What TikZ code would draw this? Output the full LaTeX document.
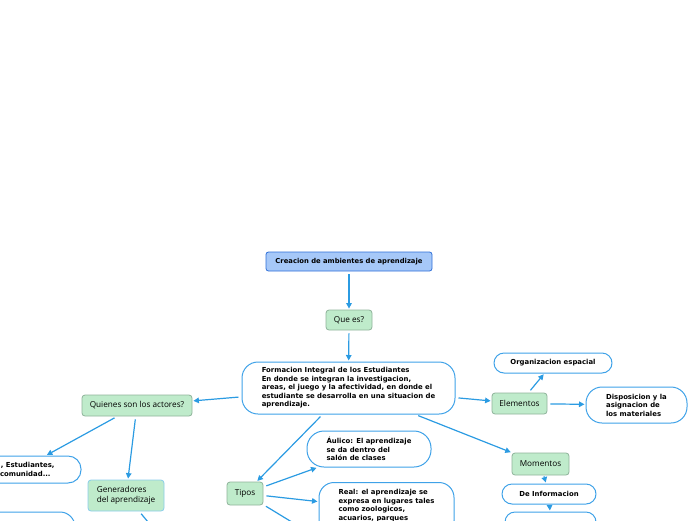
\documentclass[tikz,border=0pt]{standalone}
\usepackage{fontspec}
\setmainfont{DejaVu Sans}
\newfontfamily\topicfont{Open Sans}
\usetikzlibrary{arrows.meta}

\definecolor{linkblue}{HTML}{2B9BE2}
\definecolor{pillblue}{HTML}{3FA2E8}
\definecolor{greenfill}{HTML}{BFEBCB}
\definecolor{greenline}{HTML}{8FB39A}
\definecolor{genline}{HTML}{8ACDEA}
\definecolor{titlefill}{HTML}{A6C8F8}
\definecolor{titleline}{HTML}{2E6FD8}

\tikzset{
  idea/.style={draw=pillblue, fill=white, line width=1pt, rounded corners=15pt, align=left,
    inner sep=0pt, font=\bfseries\fontsize{6.9}{8.5}\selectfont},
  topic/.style={draw=greenline, fill=greenfill, line width=0.8pt, rounded corners=3pt,
    inner sep=0pt, font=\topicfont\fontsize{8.2}{10.5}\selectfont},
  link/.style={draw=linkblue, line width=1.2pt, -{Triangle[length=5.5pt,width=5.5pt]},
    shorten <=3pt, shorten >=1pt},
}

\begin{document}
\begin{tikzpicture}[x=1pt, y=-1pt, line join=round]
  \useasboundingbox (0,0) rectangle (696,520);
  \clip (0,0) rectangle (696,520);

  % centre
  \node[draw=titleline, fill=titlefill, line width=0.8pt, rounded corners=2.5pt,
    minimum width=166pt, minimum height=19pt, inner sep=0pt,
    font=\bfseries\fontsize{6.8}{8}\selectfont] (title) at (349,261.5)
    {Creacion de ambientes de aprendizaje};
  \node[topic, minimum width=46pt, minimum height=20pt] (quees) at (349,320) {Que es?};
  \node[idea, rounded corners=16pt, minimum width=213pt, minimum height=52pt] (formacion) at (348.5,388)
    {Formacion Integral de los Estudiantes\\En donde se integran la investigacion,\\areas, el juego y la afectividad, en donde el\\estudiante se desarrolla en una situacion de\\aprendizaje.};

  % actores
  \node[topic, minimum width=110pt, minimum height=21pt] (actores) at (137,405.5) {Quienes son los actores?};
  \node[idea, rounded corners=13pt, minimum width=121pt, minimum height=27pt, text width=121pt] (personas) at (20.5,469.5)
    {\hspace*{41pt}, Estudiantes,\\\hspace*{40pt}comunidad...};
  \node[topic, draw=genline, align=left, minimum width=76pt, minimum height=31pt] (generadores) at (126,495.5)
    {Generadores\\del aprendizaje};
  \node[idea, minimum width=130pt, minimum height=46pt] (facil) at (10,535) {};
  \coordinate (genfin) at (153,528);

  % elementos
  \node[topic, minimum width=55pt, minimum height=21pt] (elementos) at (519.5,403.5) {Elementos};
  \node[idea, rounded corners=10pt, minimum width=118pt, minimum height=20pt] (espacial) at (553,363)
    {Organizacion espacial};
  \node[idea, rounded corners=16pt, minimum width=101pt, minimum height=36pt] (materiales) at (636.5,405)
    {Disposicion y la\\asignacion de\\los materiales};

  % momentos
  \node[topic, minimum width=57pt, minimum height=22pt] (momentos) at (540.5,464) {Momentos};
  \node[idea, rounded corners=10pt, minimum width=94pt, minimum height=20pt] (informacion) at (549,494)
    {De Informacion};
  \node[idea, rounded corners=10pt, minimum width=91pt, minimum height=20pt] (siguiente) at (550.5,522) {};

  % tipos
  \node[topic, minimum width=36pt, minimum height=23pt] (tipos) at (245,493.5) {Tipos};
  \node[idea, rounded corners=17pt, minimum width=124pt, minimum height=36pt] (aulico) at (369,449)
    {Áulico: El aprendizaje\\se da dentro del\\salón de clases};
  \node[idea, anchor=north, minimum width=135pt, inner ysep=7pt] (real) at (386.5,482)
    {Real: el aprendizaje se\\expresa en lugares tales\\como zoologicos,\\acuarios, parques\\\phantom{x}};
  \coordinate (tipofin) at (300,527);

  \draw[link] (title) -- (quees);
  \draw[link] (quees) -- (formacion);
  \draw[link] (formacion) -- (actores);
  \draw[link] (formacion) -- (elementos);
  \draw[link] (formacion) -- (momentos);
  \draw[link] (formacion) -- (tipos);
  \draw[link] (actores) -- (personas);
  \draw[link] (actores) -- (generadores);
  \draw[link] (generadores) -- (genfin);
  \draw[link] (elementos) -- (espacial);
  \draw[link] (elementos) -- (materiales);
  \draw[link, shorten <=1pt] (momentos) -- (informacion);
  \draw[link, shorten <=1pt] (informacion) -- (siguiente);
  \draw[link] (tipos) -- (aulico);
  \draw[link] (tipos) -- (real);
  \draw[link] (tipos) -- (tipofin);
\end{tikzpicture}
\end{document}
